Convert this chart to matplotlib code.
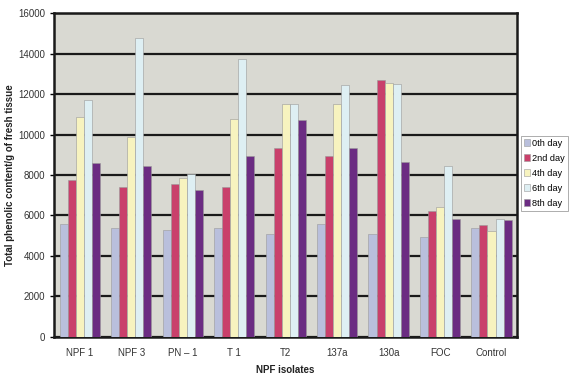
import matplotlib
matplotlib.use("Agg")
import matplotlib.pyplot as plt
import numpy as np

categories = ["NPF 1", "NPF 3", "PN \u2013 1", "T 1", "T2", "137a", "130a", "FOC", "Control"]
series_names = ["0th day", "2nd day", "4th day", "6th day", "8th day"]
day0 = [5570, 5370, 5290, 5370, 5090, 5580, 5070, 4960, 5400]
day2 = [7750, 7420, 7540, 7420, 9320, 8950, 12680, 6240, 5530]
day4 = [10870, 9890, 7840, 10760, 11530, 11530, 12570, 6440, 5240]
day6 = [11700, 14790, 8050, 13730, 11530, 12470, 12490, 8440, 5830]
day8 = [8580, 8440, 7260, 8940, 10710, 9320, 8620, 5830, 5770]
series = [day0, day2, day4, day6, day8]
colors = ["#b9bfdc", "#c9406b", "#f7f3bf", "#deeff3", "#6b2c82"]

plt.rcParams['font.family'] = ['Liberation Sans', 'DejaVu Sans']
fig = plt.figure(figsize=(5.69, 3.76), dpi=100)
ax = fig.add_axes([0.095, 0.104, 0.814, 0.861])
ax.set_facecolor("#d9d9d2")
fig.patch.set_facecolor("white")

x = np.arange(len(categories))
w = 0.156
for i, (vals, c, name) in enumerate(zip(series, colors, series_names)):
    ax.bar(x + (i - 2) * w, vals, width=w, color=c, edgecolor="#9a9a9a",
           linewidth=0.4, label=name, zorder=3)

ax.set_ylim(0, 16000)
ax.set_xlim(-0.5, len(categories) - 0.5)
ax.set_yticks(np.arange(0, 16001, 2000))
ax.yaxis.grid(True, color="#1a1a1a", linewidth=1.6, zorder=1)
ax.set_axisbelow(True)
ax.set_xticks(x)
ax.set_xticklabels(categories, fontsize=7, color="#333333")
ax.tick_params(axis='y', labelsize=7, labelcolor="#333333", length=3, width=1)
ax.tick_params(axis='x', length=0, pad=8)
for s in ax.spines.values():
    s.set_linewidth(1.8)
    s.set_color("#1a1a1a")

ax.set_ylabel("Total phenolic content/g of fresh tissue", fontsize=7, fontweight="bold", color="#222222")
ax.yaxis.set_label_coords(-0.084, 0.5)
ax.set_xlabel("NPF isolates", fontsize=7, fontweight="bold", color="#222222", labelpad=5)

leg = ax.legend(loc="upper left", bbox_to_anchor=(1.008, 0.62), fontsize=6.6, frameon=True,
                fancybox=False, borderpad=0.3, handlelength=0.7, handleheight=0.8,
                handletextpad=0.25, labelspacing=0.65, borderaxespad=0)
leg.get_frame().set_edgecolor("#888888")
leg.get_frame().set_linewidth(0.6)

fig.savefig("out.png", dpi=100)
